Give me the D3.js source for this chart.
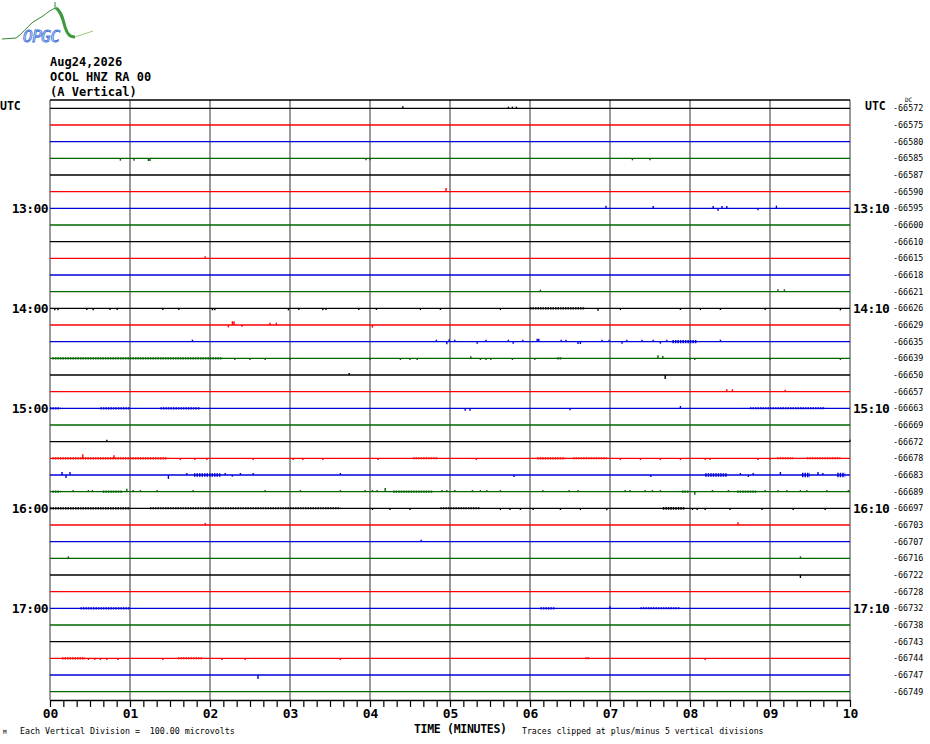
<!DOCTYPE html>
<html>
<head>
<meta charset="utf-8">
<script src="https://cdn.jsdelivr.net/npm/d3@7"></script>
<style>
  body { margin: 0; background: #fff; }
  svg { display: block; }
  text { font-family: "DejaVu Sans Mono", "Liberation Mono", monospace; }
</style>
</head>
<body>
<svg id="chart" width="930" height="744"></svg>
<script>
const headerLines = ["Aug24,2026", "OCOL HNZ RA 00", "(A Vertical)"];
const traceColors = ["#000000", "#ff0000", "#0000dd", "#006400"];
const minuteLabels = ["00", "01", "02", "03", "04", "05", "06", "07", "08", "09", "10"];
const hourRows = [6, 12, 18, 24, 30];
const hourLeft = ["13:00", "14:00", "15:00", "16:00", "17:00"];
const hourRight = ["13:10", "14:10", "15:10", "16:10", "17:10"];
const dcLabels = [
  "-66572", "-66575", "-66580", "-66585", "-66587", "-66590",
  "-66595", "-66600", "-66610", "-66615", "-66618", "-66621",
  "-66626", "-66629", "-66635", "-66639", "-66650", "-66657",
  "-66663", "-66669", "-66672", "-66678", "-66683", "-66689",
  "-66697", "-66703", "-66707", "-66716", "-66722", "-66728",
  "-66732", "-66738", "-66743", "-66744", "-66747", "-66749"
];

// single spikes per trace: [minute, microvolts]
const spikes = [
  [[4.41, 12], [5.73, 10], [5.78, 10], [5.83, 10]],
  [],
  [],
  [[0.88, -14], [1.05, -14], [1.23, -16], [1.25, -16], [3.95, -12], [4.00, -12], [7.28, -12], [7.50, -12]],
  [],
  [[4.95, 22]],
  [[6.95, 16], [7.54, 14], [8.29, 14], [8.35, -14], [8.40, 14], [8.46, 14], [8.85, -12], [9.08, 16]],
  [],
  [],
  [[1.94, 12]],
  [],
  [[6.13, 12], [9.10, 14], [9.18, 14]],
  [[0.06, -12], [0.10, -12], [0.46, -10], [0.54, -12], [0.75, -10], [0.84, -10], [1.41, -10], [1.61, -10],
   [2.03, -12], [2.06, -12], [2.98, -12], [3.11, -10], [3.41, -12], [3.45, -10], [3.86, -10], [4.08, -10],
   [4.63, -10], [4.88, -10], [5.63, -10], [6.85, -14], [7.13, -10], [7.88, -10], [8.13, -10], [8.38, -10],
   [8.94, -10], [9.88, -12]],
  [[2.23, -14], [2.28, 22], [2.30, 22], [2.40, -10], [2.75, 14], [2.83, 14], [4.03, -16]],
  [[1.78, 12], [4.83, 12], [4.96, -16], [4.99, 14], [5.06, 12], [5.34, -12], [5.45, 12], [5.73, 12],
   [5.79, -12], [5.91, 12], [6.09, 18], [6.11, 18], [6.39, 12], [6.45, 12], [6.60, -14], [6.63, -14],
   [6.90, 12], [6.99, 12], [7.15, -12], [7.21, 12], [7.40, 12], [7.54, 12], [7.63, -12], [7.71, 12], [8.38, 12]],
  [[2.31, -10], [2.50, -10], [2.69, -10], [3.00, -10], [4.00, -10], [4.38, -10], [4.50, -10], [4.59, -10],
   [5.26, 12], [5.38, -10], [5.45, -10], [5.51, -10], [5.78, -10], [6.06, -10], [7.60, 18], [7.66, 14],
   [8.00, -10], [8.06, -10], [9.00, -10], [9.88, -10]],
  [[3.74, 12], [7.69, -24]],
  [[8.46, 14], [8.53, 14], [9.19, 12]],
  [[5.19, -14], [5.25, -14], [6.50, -12], [7.88, 14]],
  [],
  [[0.71, 12], [10.0, 12]],
  [[0.41, 24], [0.80, 18], [1.63, -10], [1.81, -10], [1.96, -10], [2.54, -10], [3.04, -10], [3.16, -10],
   [3.41, -10], [4.10, -10], [5.33, -10], [7.13, -10], [7.38, -10], [7.63, -10], [7.88, -10], [8.19, -10],
   [8.25, -10], [8.85, -10], [9.00, -10]],
  [[0.15, 18], [0.20, -18], [0.25, 18], [1.48, -24], [1.71, 12], [2.19, 12], [2.28, -10], [2.38, 12],
   [2.54, 12], [3.63, 12], [5.80, -12], [7.51, -12], [8.63, 12], [8.73, -12], [8.79, 12], [9.13, 18],
   [9.60, 18], [9.66, 12]],
  [[0.29, 10], [0.48, 10], [0.53, 10], [0.96, 18], [1.04, 10], [1.13, 10], [1.34, 10], [1.79, 10],
   [2.69, 10], [3.13, 10], [3.63, 10], [3.94, 10], [4.03, 10], [4.09, 10], [4.19, 22], [4.90, 10],
   [4.96, 10], [5.06, 10], [5.28, 10], [5.38, 10], [5.46, 10], [5.63, 10], [6.16, 10], [6.49, 10],
   [6.60, 10], [7.19, 10], [7.25, 10], [7.44, 10], [7.53, 10], [7.63, 10], [8.06, -18], [8.28, 10],
   [8.48, 10], [8.94, 10], [9.10, 10], [9.21, 10], [9.38, 10], [9.46, 10], [9.71, 10], [9.98, 10]],
  [[4.03, -10], [4.25, -10], [4.50, -10], [5.63, -10], [5.75, -10], [5.88, -10], [6.04, -10], [6.38, -10],
   [6.63, -10], [6.96, -12], [8.03, -10], [8.09, -10], [8.19, -10], [8.50, -10], [8.90, -10], [9.29, -10],
   [9.69, -10]],
  [[1.94, 12], [8.60, 16]],
  [[4.64, 12]],
  [[0.23, 12], [9.38, 12]],
  [[9.38, -18]],
  [],
  [[7.00, 12]],
  [],
  [],
  [[0.48, -10], [0.56, -10], [0.63, -10], [0.71, -10], [0.85, -10], [1.41, -10], [2.15, -10], [2.44, -10],
   [3.63, -10], [8.19, -10]],
  [[2.60, -24]],
  []
];

// dense noise stretches: [start minute, end minute, half amplitude in microvolts]
const bands = {
  12: [[6.00, 6.69, 7]],
  14: [[7.78, 8.09, 10]],
  15: [[0.03, 2.15, 7], [6.34, 6.40, 7]],
  18: [[0.00, 0.13, 7], [0.63, 1.00, 7], [1.38, 1.88, 7], [8.75, 9.69, 6]],
  21: [[0.03, 1.46, 7], [4.54, 4.84, 6], [6.09, 6.44, 7], [6.54, 6.96, 6], [9.09, 9.29, 6], [9.46, 9.88, 6]],
  22: [[1.80, 2.13, 10], [8.19, 8.46, 10], [9.40, 9.50, 14], [9.84, 9.94, 14]],
  23: [[0.03, 0.13, 7], [0.66, 0.90, 7], [4.29, 4.78, 7], [7.90, 7.98, 7], [8.59, 8.84, 7]],
  24: [[0.00, 1.00, 7], [1.25, 3.63, 6], [4.88, 5.38, 6], [7.66, 7.94, 8]],
  30: [[0.38, 1.00, 7], [6.13, 6.31, 7], [7.38, 7.88, 6]],
  33: [[0.15, 0.44, 7], [1.60, 1.91, 6], [6.69, 6.75, 6]]
};

// ---- drawing ----
const svg = d3.select("#chart");
const nTraces = dcLabels.length;

const x = d3.scaleLinear().domain([0, 10]).range([50, 850]);
const y = d3.scaleLinear().domain([0, nTraces]).range([108.33, 708.33]);
const amp = d3.scaleLinear().domain([0, 100]).range([0, 16.667]); // one vertical division = 100 microvolts

const plotTop = 100, plotBottom = 700;

// logo
const logo = svg.append("g");
logo.append("path")
  .attr("d", "M2,39 L16,38 C22,34 26,28 33,22 L43,16 C48,12 52,9 56,8")
  .attr("fill", "none").attr("stroke", "#2f8a2f").attr("stroke-width", 1);
logo.append("line").attr("x1", 55).attr("x2", 55).attr("y1", 2).attr("y2", 9)
  .attr("stroke", "#2f8a2f").attr("stroke-width", 1);
logo.append("path")
  .attr("d", "M56,8 C61,11 63,19 65,27 C67,33 69,37 75,37")
  .attr("fill", "none").attr("stroke", "#3f9a3f").attr("stroke-width", 3);
logo.append("path")
  .attr("d", "M75,37 L93,31")
  .attr("fill", "none").attr("stroke", "#9ccc7c").attr("stroke-width", 1);
logo.append("text")
  .attr("x", 23).attr("y", 42)
  .attr("font-family", "DejaVu Serif, serif")
  .attr("font-style", "italic")
  .attr("font-size", 16)
  .attr("fill", "#fff").attr("stroke", "#3a6fd6").attr("stroke-width", 0.9)
  .attr("letter-spacing", -0.5)
  .text("OPGC");

// header
svg.selectAll("text.header")
  .data(headerLines)
  .enter().append("text")
  .attr("class", "header")
  .attr("x", 50)
  .attr("y", (d, i) => 66 + i * 15)
  .attr("font-size", 12)
  .attr("font-weight", 600)
  .text(d => d);

// vertical minute grid
svg.append("g")
  .selectAll("line")
  .data(d3.range(0, 11))
  .enter().append("line")
  .attr("x1", d => x(d)).attr("x2", d => x(d))
  .attr("y1", plotTop).attr("y2", plotBottom)
  .attr("stroke", "#808080").attr("stroke-width", 1.6);

// top frame
svg.append("line")
  .attr("x1", x(0)).attr("x2", x(10))
  .attr("y1", plotTop).attr("y2", plotTop)
  .attr("stroke", "#000").attr("stroke-width", 1.3);

// traces
const traces = svg.append("g");
for (let i = 0; i < nTraces; i++) {
  const col = traceColors[i % 4];
  const g = traces.append("g");
  const y0 = y(i);
  g.append("line")
    .attr("x1", x(0)).attr("x2", x(10))
    .attr("y1", y0).attr("y2", y0)
    .attr("stroke", col).attr("stroke-width", 1.3);

  // noisy stretches drawn as a broken, thickened trace
  g.selectAll("line.band")
    .data(bands[i] || [])
    .enter().append("line")
    .attr("class", "band")
    .attr("x1", d => x(d[0])).attr("x2", d => x(d[1]))
    .attr("y1", y0).attr("y2", y0)
    .attr("stroke", col)
    .attr("stroke-width", d => 2 * amp(d[2]))
    .attr("stroke-dasharray", "1.5 1");

  g.selectAll("line.spike")
    .data(spikes[i])
    .enter().append("line")
    .attr("class", "spike")
    .attr("x1", d => x(d[0])).attr("x2", d => x(d[0]))
    .attr("y1", y0).attr("y2", d => y0 - amp(d[1]))
    .attr("stroke", col).attr("stroke-width", 1.4);
}

// left / right hour labels
svg.selectAll("text.hourL")
  .data(hourRows)
  .enter().append("text")
  .attr("class", "hourL")
  .attr("x", 48).attr("y", d => y(d))
  .attr("dy", "0.36em")
  .attr("text-anchor", "end")
  .attr("font-size", 13).attr("font-weight", "bold")
  .attr("letter-spacing", -0.6)
  .text((d, i) => hourLeft[i]);

svg.selectAll("text.hourR")
  .data(hourRows)
  .enter().append("text")
  .attr("class", "hourR")
  .attr("x", 853).attr("y", d => y(d))
  .attr("dy", "0.36em")
  .attr("font-size", 13).attr("font-weight", "bold")
  .attr("letter-spacing", -0.6)
  .text((d, i) => hourRight[i]);

svg.append("text").attr("x", 0).attr("y", 110)
  .attr("font-size", 11.5).attr("font-weight", "bold").text("UTC");
svg.append("text").attr("x", 865).attr("y", 110)
  .attr("font-size", 11.5).attr("font-weight", "bold").text("UTC");

// DC offset column
svg.selectAll("text.dc")
  .data(dcLabels)
  .enter().append("text")
  .attr("class", "dc")
  .attr("x", 893).attr("y", (d, i) => y(i))
  .attr("dy", "0.36em")
  .attr("font-size", 8.4)
  .text(d => d);
svg.append("text").attr("x", 905).attr("y", 102)
  .attr("font-size", 6).text("DC");

// time axis with a tick every 10 seconds
const tickValues = d3.range(0, 61).map(k => k / 6);
const axis = d3.axisBottom(x)
  .tickValues(tickValues)
  .tickSize(7)
  .tickSizeOuter(0)
  .tickFormat(d => {
    const m = Math.round(d * 6);
    return m % 6 === 0 ? minuteLabels[m / 6] : "";
  });

const axisG = svg.append("g")
  .attr("transform", `translate(0,${plotBottom})`)
  .call(axis);
axisG.select(".domain").attr("stroke", "#000").attr("stroke-width", 1.3);
axisG.selectAll(".tick line").attr("stroke", "#000").attr("stroke-width", 1.2);
axisG.selectAll(".tick text")
  .attr("font-family", "DejaVu Sans Mono, monospace")
  .attr("font-size", 13)
  .attr("font-weight", "bold")
  .attr("fill", "#000")
  .attr("y", 9);

// footer
svg.append("text").attr("x", 3).attr("y", 734).attr("font-size", 6).text("M");
svg.append("text").attr("x", 20).attr("y", 734)
  .attr("font-size", 8.3).attr("xml:space", "preserve")
  .text("Each Vertical Division =  100.00 microvolts");
svg.append("text").attr("x", 414).attr("y", 733)
  .attr("font-size", 11.5).attr("font-weight", "bold").attr("letter-spacing", -0.3)
  .text("TIME (MINUTES)");
svg.append("text").attr("x", 522).attr("y", 734)
  .attr("font-size", 8.2)
  .text("Traces clipped at plus/minus 5 vertical divisions");
</script>
</body>
</html>
